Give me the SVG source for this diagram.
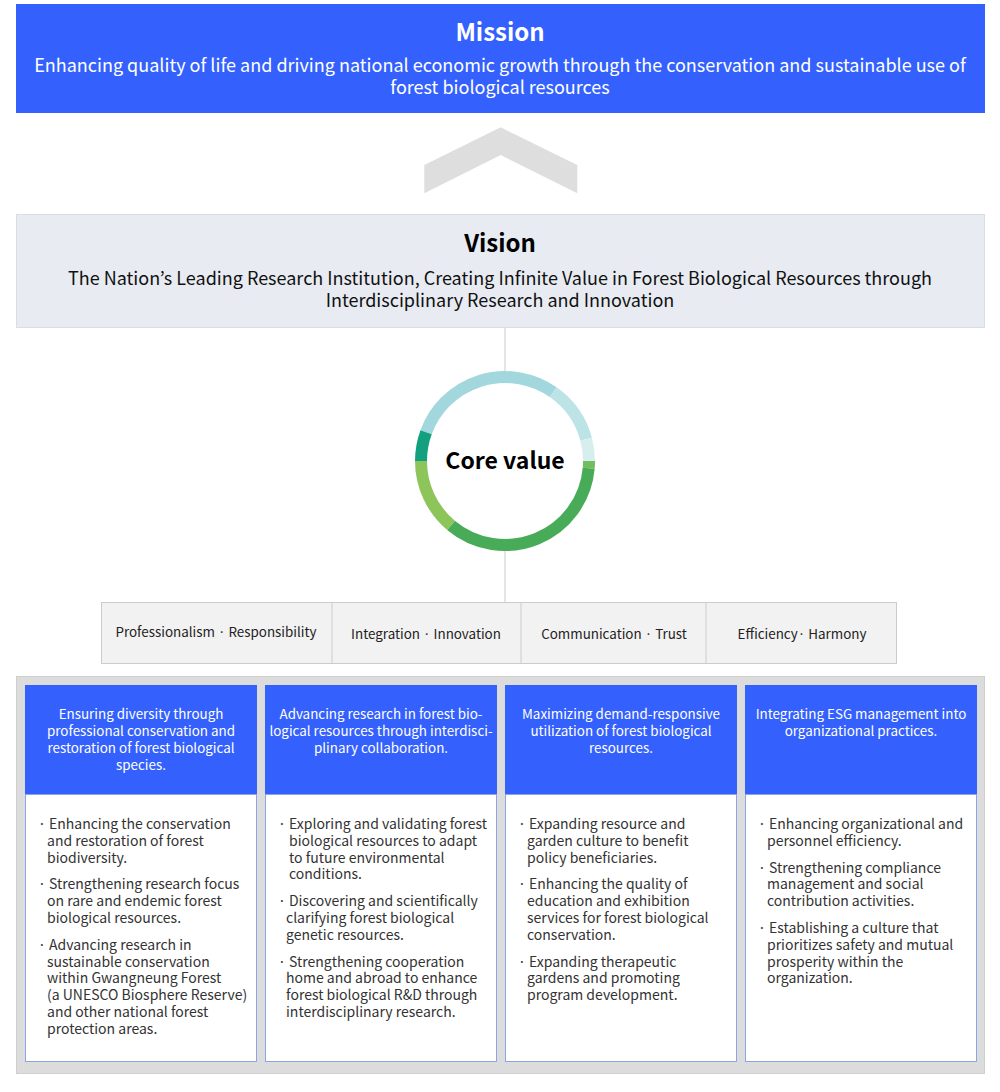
<svg xmlns="http://www.w3.org/2000/svg" width="1000" height="1092" viewBox="0 0 1000 1092">
<style>
text{font-family:"Noto Sans CJK KR","Noto Sans",sans-serif}
.ttl{font-weight:bold;font-size:24px;text-anchor:middle}
.sub{font-size:18px;text-anchor:middle}
.cv{font-size:13.4px;fill:#222;text-anchor:middle}
.hd{font-size:13.4px;fill:#fff;text-anchor:middle}
.bd{font-size:14px;fill:#333}
.hdbox{fill:#3461fd}
.body{fill:#fff;stroke:#8ea4ea;stroke-width:1}
.ring{fill:none;stroke-width:12}
</style>
<rect width="1000" height="1092" fill="#fff"/>
<g id="connectors">
<line x1="505" y1="328" x2="505" y2="372" stroke="#dddddd" stroke-width="1.5"/>
<line x1="505" y1="550" x2="505" y2="602" stroke="#dddddd" stroke-width="1.5"/>
<polygon points="424.3,193.3 424.3,165 500.7,127.3 577.3,165 577.3,193.3 500.7,155" fill="#dedede"/>
</g>
<g id="mission">
<rect x="16" y="4" width="969" height="109" fill="#3461fd"/>
<text class="ttl" x="500" y="41" fill="#fff">Mission</text>
<text class="sub" x="500" y="72" fill="#fff">Enhancing quality of life and driving national economic growth through the conservation and sustainable use of</text>
<text class="sub" x="500" y="94" fill="#fff">forest biological resources</text>
</g>
<g id="vision">
<rect x="16.5" y="214.5" width="968" height="113" fill="#e8ecf2" stroke="#d9dee6"/>
<text class="ttl" x="500" y="252" fill="#000">Vision</text>
<text class="sub" x="500" y="285" fill="#111">The Nation’s Leading Research Institution, Creating Infinite Value in Forest Biological Resources through</text>
<text class="sub" x="500" y="307" fill="#111">Interdisciplinary Research and Innovation</text>
</g>
<g id="core-value">
<circle cx="505" cy="461" r="78" fill="#fff"/>
<path class="ring" stroke="#a2d7dd" d="M426.1,432.3 A84,84 0 0 1 553.2,392.2"/>
<path class="ring" stroke="#bce3e6" d="M553.2,392.2 A84,84 0 0 1 586.1,439.3"/>
<path class="ring" stroke="#d6eeee" d="M586.1,439.3 A84,84 0 0 1 589,461"/>
<path class="ring" stroke="#72bd5f" d="M589,461 A84,84 0 0 1 588.7,468.3"/>
<path class="ring" stroke="#47ab57" d="M588.7,468.3 A84,84 0 0 1 451,525.3"/>
<path class="ring" stroke="#8dc55b" d="M451,525.3 A84,84 0 0 1 421,461"/>
<path class="ring" stroke="#12a07f" d="M421,461 A84,84 0 0 1 426.1,432.3"/>
<text x="505" y="469" font-size="23" font-weight="bold" text-anchor="middle" fill="#000">Core value</text>
</g>
<g id="values">
<rect x="101.5" y="602.5" width="795" height="61" fill="#f2f2f2" stroke="#cccccc"/>
<line x1="332" y1="602" x2="332" y2="664" stroke="#cccccc"/>
<line x1="521" y1="602" x2="521" y2="664" stroke="#cccccc"/>
<line x1="706" y1="602" x2="706" y2="664" stroke="#cccccc"/>
<text class="cv" x="216" y="637">Professionalism · Responsibility</text>
<text class="cv" x="426" y="639">Integration · Innovation</text>
<text class="cv" x="614" y="639">Communication · Trust</text>
<text class="cv" x="802" y="639">Efficiency· Harmony</text>
</g>
<rect x="16.5" y="676.5" width="968" height="397" fill="#dcdcdc" stroke="#cfcfcf"/>
<g id="goal-1">
<rect class="hdbox" x="25" y="685" width="232" height="109"/>
<rect class="body" x="25.5" y="794.5" width="231" height="267"/>
<text class="hd" x="141" y="719">Ensuring diversity through</text>
<text class="hd" x="141" y="736">professional conservation and</text>
<text class="hd" x="141" y="753">restoration of forest biological</text>
<text class="hd" x="141" y="770">species.</text>
<text class="bd" x="38" y="829">· Enhancing the conservation</text>
<text class="bd" x="47" y="846">and restoration of forest</text>
<text class="bd" x="47" y="863">biodiversity.</text>
<text class="bd" x="38" y="889">· Strengthening research focus</text>
<text class="bd" x="47" y="906">on rare and endemic forest</text>
<text class="bd" x="47" y="923">biological resources.</text>
<text class="bd" x="38" y="950">· Advancing research in</text>
<text class="bd" x="47" y="967">sustainable conservation</text>
<text class="bd" x="47" y="983">within Gwangneung Forest</text>
<text class="bd" x="47" y="1000">(a UNESCO Biosphere Reserve)</text>
<text class="bd" x="47" y="1017">and other national forest</text>
<text class="bd" x="47" y="1034">protection areas.</text>
</g>
<g id="goal-2">
<rect class="hdbox" x="265" y="685" width="232" height="109"/>
<rect class="body" x="265.5" y="794.5" width="231" height="267"/>
<text class="hd" x="381" y="719">Advancing research in forest bio-</text>
<text class="hd" x="381" y="736">logical resources through interdisci-</text>
<text class="hd" x="381" y="753">plinary collaboration.</text>
<text class="bd" x="278" y="829">· Exploring and validating forest</text>
<text class="bd" x="289" y="846">biological resources to adapt</text>
<text class="bd" x="289" y="863">to future environmental</text>
<text class="bd" x="289" y="879">conditions.</text>
<text class="bd" x="278" y="906">· Discovering and scientifically</text>
<text class="bd" x="286" y="923">clarifying forest biological</text>
<text class="bd" x="286" y="940">genetic resources.</text>
<text class="bd" x="278" y="967">· Strengthening cooperation</text>
<text class="bd" x="286" y="983">home and abroad to enhance</text>
<text class="bd" x="286" y="1000">forest biological R&amp;D through</text>
<text class="bd" x="286" y="1017">interdisciplinary research.</text>
</g>
<g id="goal-3">
<rect class="hdbox" x="505" y="685" width="232" height="109"/>
<rect class="body" x="505.5" y="794.5" width="231" height="267"/>
<text class="hd" x="621" y="719">Maximizing demand-responsive</text>
<text class="hd" x="621" y="736">utilization of forest biological</text>
<text class="hd" x="621" y="753">resources.</text>
<text class="bd" x="518" y="829">· Expanding resource and</text>
<text class="bd" x="527" y="846">garden culture to benefit</text>
<text class="bd" x="527" y="863">policy beneficiaries.</text>
<text class="bd" x="518" y="889">· Enhancing the quality of</text>
<text class="bd" x="527" y="906">education and exhibition</text>
<text class="bd" x="527" y="923">services for forest biological</text>
<text class="bd" x="527" y="940">conservation.</text>
<text class="bd" x="518" y="967">· Expanding therapeutic</text>
<text class="bd" x="527" y="983">gardens and promoting</text>
<text class="bd" x="527" y="1000">program development.</text>
</g>
<g id="goal-4">
<rect class="hdbox" x="745" y="685" width="232" height="109"/>
<rect class="body" x="745.5" y="794.5" width="231" height="267"/>
<text class="hd" x="861" y="719">Integrating ESG management into</text>
<text class="hd" x="861" y="736">organizational practices.</text>
<text class="bd" x="758" y="829">· Enhancing organizational and</text>
<text class="bd" x="767" y="846">personnel efficiency.</text>
<text class="bd" x="758" y="873">· Strengthening compliance</text>
<text class="bd" x="767" y="889">management and social</text>
<text class="bd" x="767" y="906">contribution activities.</text>
<text class="bd" x="758" y="933">· Establishing a culture that</text>
<text class="bd" x="767" y="950">prioritizes safety and mutual</text>
<text class="bd" x="767" y="967">prosperity within the</text>
<text class="bd" x="767" y="983">organization.</text>
</g>
</svg>
